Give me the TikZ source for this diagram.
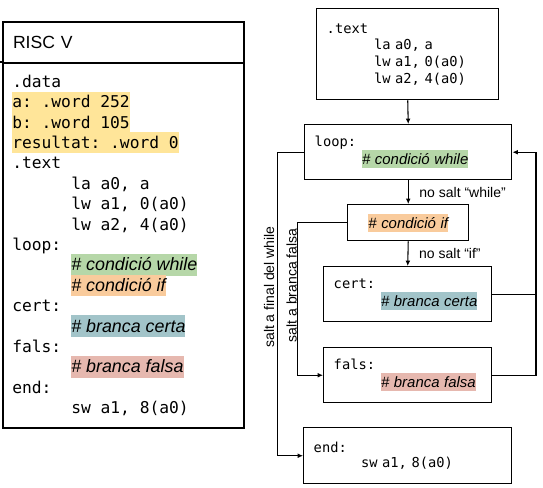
\documentclass[tikz,border=0pt]{standalone}
\usepackage{fontspec}
\setmainfont{Liberation Sans}
\newfontfamily\codefont{DejaVu Sans Mono}
\usetikzlibrary{arrows.meta}
\definecolor{hlyellow}{HTML}{FFE599}
\definecolor{hlgreen}{HTML}{B6D7A8}
\definecolor{hlorange}{HTML}{F9CB9C}
\definecolor{hlblue}{HTML}{A2C4C9}
\definecolor{hlred}{HTML}{E6B8AF}
% highlighted row: colour, height, depth, text
\newcommand\hlrow[4]{{\setlength\fboxsep{0pt}\colorbox{#1}{\rule[-#3]{0pt}{\dimexpr#2+#3\relax}\smash{#4}}}}
\newcommand\ylw[1]{\hlrow{hlyellow}{12.1pt}{3.2pt}{#1}}
\newcommand\lcmt[2]{\hlrow{#1}{12.5pt}{3.8pt}{\normalfont\itshape\fontsize{13.4}{15.3}\selectfont #2}}
\newcommand\rcmt[2]{\hlrow{#1}{11pt}{2.5pt}{\normalfont\itshape\fontsize{11.2}{13.5}\selectfont #2}}
\newcommand\lind{\hspace*{44.25pt}}
\newcommand\rind{\hspace*{35.5pt}}
\newcommand\tightlines{\lineskiplimit=-100pt\relax\frenchspacing}
\begin{document}
\begin{tikzpicture}[x=0.75pt,y=0.75pt,yscale=-1,xscale=1,
    tbl/.style={draw, line width=1.5pt, anchor=north west, inner sep=0pt, minimum width=180.75pt},
    blk/.style={draw, line width=1.1pt, anchor=north west, inner xsep=7.5pt, inner ysep=0pt, align=left,
      font={\codefont\fontsize{10.3}{13.5}\selectfont\tightlines}},
    flow/.style={line width=0.8pt, -{Latex[length=4pt,width=3.6pt]}},
    wire/.style={line width=0.8pt},
    lbl/.style={inner sep=1pt, font=\fontsize{10.5}{12}\selectfont}]
  \useasboundingbox (0,0) rectangle (543,488);

  %Shape: Table
  \node[tbl, minimum height=30.75pt, inner xsep=7.5pt, align=left, text width=165.75pt,
    font=\fontsize{13.2}{15}\selectfont] (head) at (2,21) {RISC V};
  \node[tbl, minimum height=273.75pt] (body) at (2,62) {};
  \draw[line width=1.5pt] (0,62) -- (body.north west);

  % Text Node
  \node[anchor=north west, inner sep=0pt, align=left,
    font={\codefont\fontsize{12.2}{15.3}\selectfont\tightlines}] (code) at (12,70.9) {%
    \rule[-3.2pt]{0pt}{15.3pt}.data\\
    \ylw{a: .word 252}\\
    \ylw{b: .word 105}\\
    \ylw{resultat: .word 0}\\
    .text\\
    \lind la a0, a\\
    \lind lw a1, 0(a0)\\
    \lind lw a2, 4(a0)\\
    loop:\\
    \lind\lcmt{hlgreen}{\# condició while}\\
    \lind\lcmt{hlorange}{\# condició if}\\
    cert:\\
    \lind\lcmt{hlblue}{\# branca certa}\\
    fals:\\
    \lind\lcmt{hlred}{\# branca falsa}\\
    end:\\
    \lind sw a1, 8(a0)};

  %Shape: Rectangle
  \node[blk, text width=121.5pt, minimum height=68.25pt,
    font={\codefont\fontsize{10.3}{12.5}\selectfont\tightlines}] (textb) at (316,8)
    {.text\\ \rind la a0, a\\ \rind lw a1, 0(a0)\\ \rind lw a2, 4(a0)};
  %Shape: Rectangle
  \node[blk, text width=140.25pt, minimum height=41.25pt] (loopb) at (304,124)
    {loop:\\ \rind\rcmt{hlgreen}{\# condició while}};
  %Shape: Rectangle
  \node[blk, text width=75.75pt, minimum height=27pt, align=center] (ifb) at (347,204)
    {\rcmt{hlorange}{\# condició if}};
  %Shape: Rectangle
  \node[blk, text width=111pt, minimum height=41.25pt] (certb) at (323,266)
    {cert:\\ \rind\rcmt{hlblue}{\# branca certa}};
  %Shape: Rectangle
  \node[blk, text width=111pt, minimum height=41.25pt] (falsb) at (323,347)
    {fals:\\ \rind\rcmt{hlred}{\# branca falsa}};
  %Shape: Rectangle
  \node[blk, text width=141pt, minimum height=42pt,
    font={\codefont\fontsize{10.3}{11.5}\selectfont\tightlines}] (endb) at (303,427)
    {end:\\ \rind sw a1, 8(a0)};

  \coordinate (wl) at (277.7,151);
  \coordinate (fl) at (297.7,222);
  \coordinate (rl) at (536,151);

  %Straight Lines
  \draw[flow] (textb.south) -- (loopb.north);
  \draw[flow] (loopb.south) -- node[lbl, right=7pt] {no salt “while”} (ifb.north);
  \draw[flow] (ifb.south) -- node[lbl, right=7pt] {no salt “if”} (certb.north);
  %Straight Lines
  \draw[flow] (loopb.west) -| (wl |- endb.west) -- (endb.west);
  \draw[flow] (ifb.west) -| (fl |- falsb.west) -- (falsb.west);
  \draw[wire] (certb.east) -- (rl |- certb.east);
  \draw[flow] (falsb.east) -| (rl |- loopb.east) -- (loopb.east);

  % Text Node
  \node[lbl, rotate=90] (lblw) at (269,287) {salt a final del while};
  % Text Node
  \node[lbl, rotate=90] (lblf) at (291.5,285.5) {salt a branca falsa};
\end{tikzpicture}
\end{document}
